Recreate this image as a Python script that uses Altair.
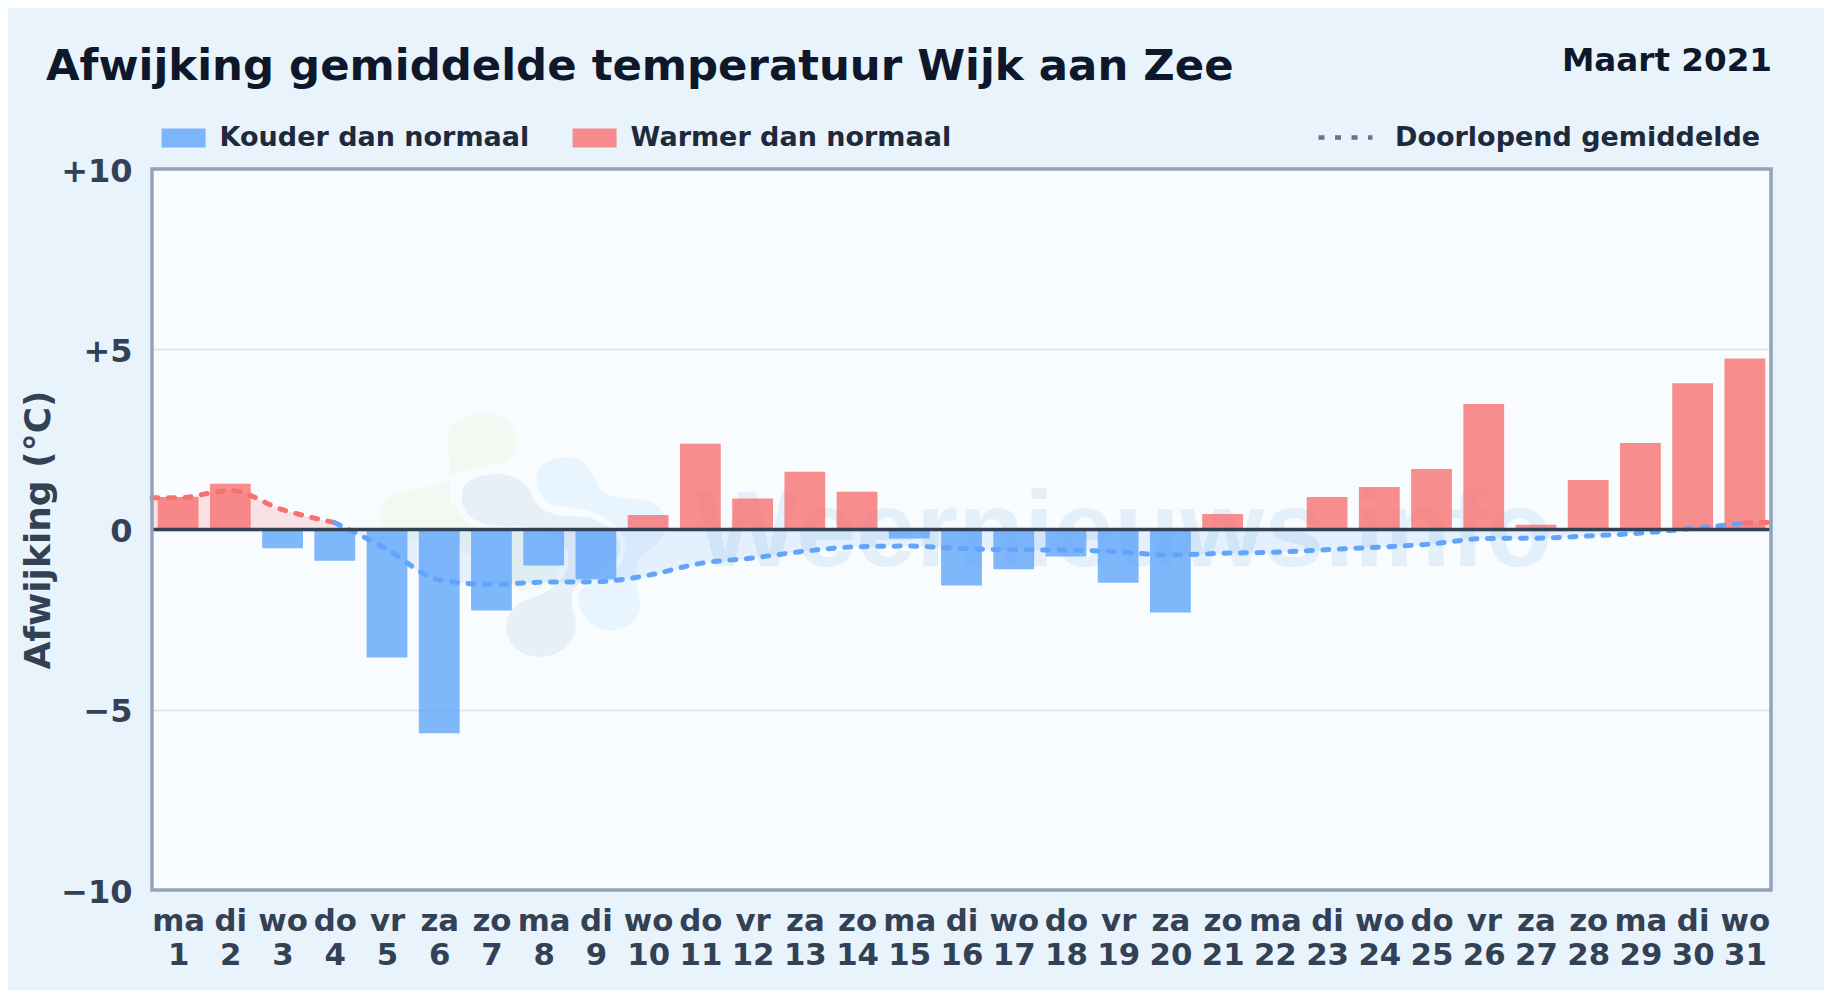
import json
import altair as alt
import pandas as pd

TITLE = "Afwijking gemiddelde temperatuur Wijk aan Zee"
PERIOD = "Maart 2021"
WATERMARK = "Weernieuws.info"
COLD = "Kouder dan normaal"
WARM = "Warmer dan normaal"
MEAN = "Doorlopend gemiddelde"

days = list(range(1, 32))
weekdays = ["ma", "di", "wo", "do", "vr", "za", "zo", "ma", "di", "wo", "do", "vr", "za", "zo", "ma", "di",
            "wo", "do", "vr", "za", "zo", "ma", "di", "wo", "do", "vr", "za", "zo", "ma", "di", "wo"]
deviation = [0.9, 1.27, -0.52, -0.87, -3.55, -5.65, -2.25, -1.0, -1.38, 0.4, 2.38, 0.86, 1.6, 1.05, -0.25, -1.55,
             -1.1, -0.75, -1.48, -2.3, 0.43, 0.0, 0.9, 1.18, 1.68, 3.48, 0.13, 1.37, 2.4, 4.06, 4.74]
mean_days = [0.5] + days + [31.5]
running_mean = [0.88, 0.88, 1.08, 0.55, 0.19, -0.55, -1.4, -1.52, -1.46, -1.45, -1.27, -0.94, -0.79, -0.6, -0.48, -0.46,
                -0.53, -0.56, -0.57, -0.62, -0.71, -0.66, -0.63, -0.56, -0.49, -0.4, -0.25, -0.24, -0.18, -0.1, 0.03,
                0.18, 0.2]
seg_warm_a = 5      # points 0.5..4
seg_cold_from = 4   # from day 4
seg_cold_to = 32    # to day 30
seg_warm_from = 31  # from day 30

BLUE, RED = "#60a5fa", "#f87171"
INK, TICK = "#0f172a", "#334155"
PAGE, PLOT = "#e8f3fc", "#f8fcff"
FONT = "DejaVu Sans"

bars = pd.DataFrame({"day": days, "value": deviation,
                     "kind": [WARM if v >= 0 else COLD for v in deviation]})
means = pd.DataFrame({"day": mean_days, "mean": running_mean, "name": MEAN})
warm_start = means.iloc[:seg_warm_a]
cold_mid = means.iloc[seg_cold_from:seg_cold_to]
warm_end = means.iloc[seg_warm_from:]

label_expr = "[" + json.dumps(weekdays) + "[datum.value-1], datum.label]"
x_scale = alt.Scale(domain=[0.5, 31.5], nice=False, zero=False, padding=0)
y_scale = alt.Scale(domain=[-10, 10], nice=False)
x_axis = alt.Axis(values=days, labelExpr=label_expr, title=None, grid=False, ticks=False, domain=False,
                  labelFont=FONT, labelFontSize=30.8, labelFontWeight="bold", labelColor=TICK,
                  labelPadding=16, labelLineHeight=34, labelOverlap=False, labelBaseline="top",
                  labelAngle=0, labelFlush=False)
y_axis = alt.Axis(values=[-10, -5, 0, 5, 10], title="Afwijking (°C)", gridColor="#dfe5ea", gridWidth=2,
                  labelExpr="datum.value > 0 ? '+' + datum.value : (datum.value < 0 ? '−' + abs(datum.value) : '0')",
                  ticks=False, domain=False, labelFont=FONT, labelFontSize=32, labelFontWeight="bold",
                  labelColor=TICK, labelPadding=20, labelOffset=2, titleFont=FONT, titleFontSize=36,
                  titleFontWeight="bold", titleColor=TICK, titlePadding=3)
xdef = alt.X("day:Q", scale=x_scale, axis=x_axis)
ydef = alt.Y("value:Q", stack=None, scale=y_scale, axis=y_axis)
ymean = alt.Y("mean:Q", stack=None, scale=y_scale, axis=y_axis)

one = alt.Data(values=[{"k": 1}])


def blob(path, fill, halo=False):
    kw = {"stroke": PLOT, "strokeWidth": 12} if halo else {"strokeWidth": 0}
    return alt.Chart(one).mark_point(shape=path, size=0.4444, filled=True, fill=fill, opacity=1, **kw).encode(
        x=alt.value(218), y=alt.value(231))


GREEN_PATH = ("M235,100 C240,60 300,40 350,40 C410,40 445,90 440,130 C440,175 400,190 360,195 C300,205 260,220 220,245 "
              "C180,265 100,265 60,290 C20,320 20,350 40,385 C60,420 150,420 220,430 C300,450 330,500 400,550 "
              "C440,580 510,585 550,550 C590,510 570,450 520,420 C450,380 300,400 240,300 Z")
GREY_PATH = ("M275,280 C280,235 340,222 380,222 C440,222 475,250 490,295 C510,340 560,350 640,350 C700,350 750,380 765,430 "
             "C780,500 720,540 640,565 C600,590 600,620 615,650 C630,700 590,770 510,770 C440,770 405,720 410,670 "
             "C415,620 460,600 510,585 C570,560 600,510 595,470 C585,410 520,385 450,378 C360,385 270,370 275,280 Z")
LIGHT_PATH = ("M500,225 C505,190 550,172 590,172 C640,172 665,205 680,250 C695,285 740,297 800,298 C860,300 895,340 890,385 "
              "C880,430 830,450 805,480 C790,510 800,570 810,610 C815,660 770,690 720,692 C670,690 630,650 625,600 "
              "C620,570 640,560 700,540 C770,500 790,430 740,380 C700,340 630,320 570,320 C520,315 495,270 500,225 Z")

blobs = [blob(GREEN_PATH, "#f3f9f2"),
         blob(GREY_PATH, PLOT, True), blob(GREY_PATH, "#e7eff7"),
         blob(LIGHT_PATH, PLOT, True), blob(LIGHT_PATH, "#e8f4fe")]

mark_text = alt.Chart(one).mark_text(text=WATERMARK, font="Liberation Sans", fontWeight="bold", fontSize=108,
                                     align="center", baseline="alphabetic", color="#3a84cd", opacity=0.1).encode(
    x=alt.value(972), y=alt.value(397))

area_w1 = alt.Chart(warm_start).mark_area(color=RED, opacity=0.18, interpolate="monotone").encode(
    x=xdef, y=ymean, y2=alt.Y2(datum=0))
area_c = alt.Chart(cold_mid).mark_area(color=BLUE, opacity=0.13, interpolate="monotone").encode(
    x=xdef, y=ymean, y2=alt.Y2(datum=0))
area_w2 = alt.Chart(warm_end).mark_area(color=RED, opacity=0.18, interpolate="monotone").encode(
    x=xdef, y=ymean, y2=alt.Y2(datum=0))

bar_layer = alt.Chart(bars).mark_bar(size=40.8, orient="vertical", opacity=0.8).encode(
    x=xdef, y=ydef,
    color=alt.Color("kind:N", scale=alt.Scale(domain=[COLD, WARM], range=[BLUE, RED]),
                    legend=alt.Legend(title=None, orient="none", direction="horizontal", legendX=9.6, legendY=-53,
                                      symbolType="M-1,-0.43H1V0.43H-1Z", symbolSize=1936, symbolOpacity=0.8,
                                      symbolStrokeWidth=0, labelFont=FONT, labelFontSize=27, labelFontWeight="bold",
                                      labelColor="#1e293b", labelOffset=14, columnPadding=43, labelLimit=600)))

dash = alt.StrokeDash("name:N", scale=alt.Scale(domain=[MEAN], range=[[6, 10.5]]),
                      legend=alt.Legend(title=None, orient="none", legendX=1164, legendY=-61, symbolType="stroke",
                                        symbolSize=2916, symbolStrokeWidth=4.5, symbolStrokeColor="#64748b",
                                        labelFont=FONT, labelFontSize=27, labelFontWeight="bold", labelColor="#1e293b",
                                        labelOffset=20, labelLimit=600))


def mean_line(frame, color):
    return alt.Chart(frame).mark_line(color=color, strokeWidth=5, strokeCap="round", interpolate="monotone").encode(
        x=xdef, y=ymean, strokeDash=dash)


line_w1, line_c, line_w2 = mean_line(warm_start, RED), mean_line(cold_mid, BLUE), mean_line(warm_end, RED)

zero_rule = alt.Chart(alt.Data(values=[{"mean": 0}])).mark_rule(color=TICK, strokeWidth=3.5).encode(y=ymean)

border = alt.Chart(one).mark_rect(fillOpacity=0, stroke="#94a3b8", strokeWidth=3.5).encode(
    x=alt.value(0), x2=alt.value(1619), y=alt.value(0), y2=alt.value(721))

period = alt.Chart(one).mark_text(text=PERIOD, font=FONT, fontWeight="bold", fontSize=32.6, align="right",
                                  baseline="alphabetic", color=INK).encode(x=alt.value(1620), y=alt.value(-98))

chart = alt.layer(*blobs, mark_text, area_w1, area_c, area_w2, bar_layer, line_w1, line_c,
                  line_w2, zero_rule, border, period).properties(
    width=1619, height=721,
    title=alt.TitleParams(TITLE, anchor="start", frame="group", dx=-106, offset=-78.5, baseline="alphabetic",
                          font=FONT, fontSize=43.4, fontWeight="bold", color=INK),
    background=PAGE,
    padding={"left": 144, "top": 161, "right": 53, "bottom": 100},
    autosize=alt.AutoSizeParams(type="none"),
).configure_view(fill=PLOT, stroke=None)

chart.save("out.html", embed_options={"renderer": "svg", "actions": False})
